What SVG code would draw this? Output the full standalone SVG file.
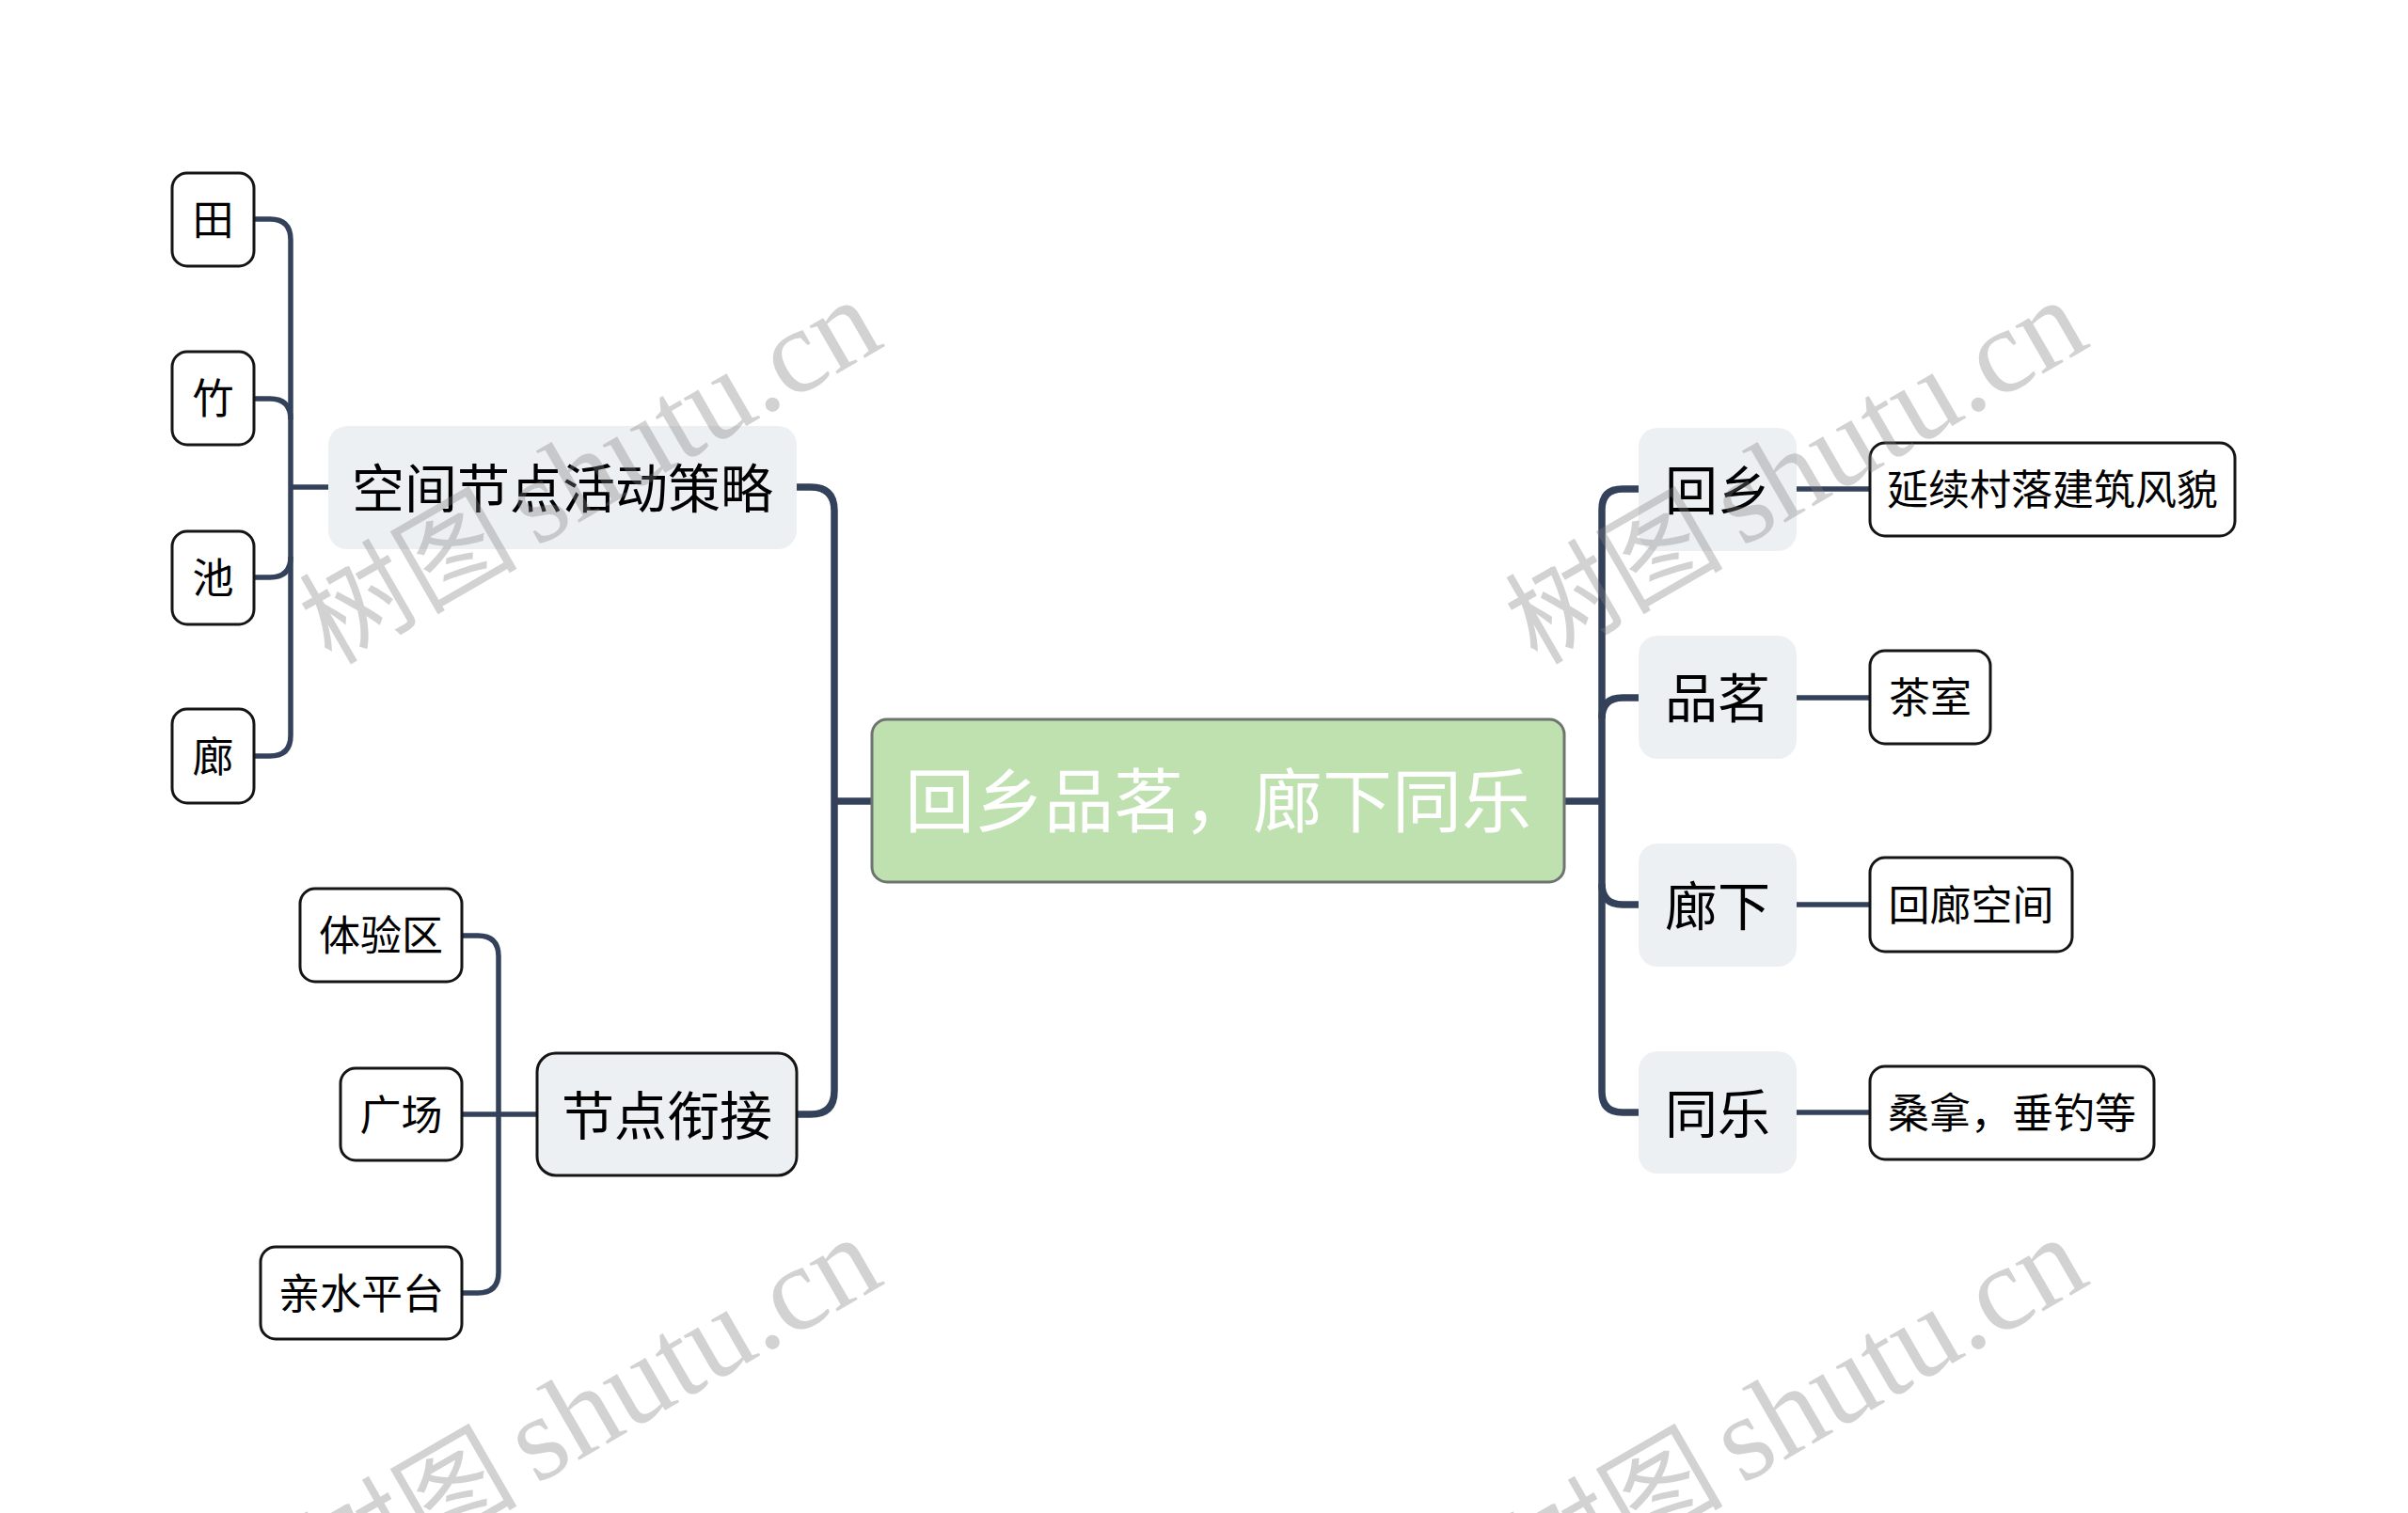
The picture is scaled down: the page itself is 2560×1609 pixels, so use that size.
<svg xmlns="http://www.w3.org/2000/svg" width="2560" height="1609" viewBox="0 0 2560 1609">
<style>
.bg{fill:#ffffff}
.t{font-family:"Noto Sans CJK SC","Noto Sans",sans-serif;text-anchor:middle;dominant-baseline:central;fill:#000000}
.leaf rect{fill:#ffffff;stroke:#151515;stroke-width:3}
.leaf text{font-size:44px}
.l1 rect{fill:#edf0f3}
.l1 text{font-size:56px}
.l1b rect{fill:#edf0f3;stroke:#151515;stroke-width:3}
.root rect{fill:#bfe1b0;stroke:#6e746f;stroke-width:3}
.root text{font-size:74px;fill:#ffffff}
.c{fill:none;stroke:#33425a;stroke-linecap:butt}
.c1{stroke-width:7.5}
.c2{stroke-width:5.5}
.wm{font-family:"Liberation Serif","Noto Sans CJK SC",serif;font-size:128px;fill:#808080;opacity:0.35}
.wmc{font-family:"Noto Sans CJK SC",serif;font-size:116px;fill:#808080;opacity:0.35;text-anchor:end}
</style>
<rect class="bg" x="0" y="0" width="2560" height="1609"/>
<g id="connectors">
<path class="c c1" d="M847 518 H862 Q887 518 887 543 V1160 Q887 1185 862 1185 H847"/>
<path class="c c1" d="M927 852 H887"/>
<path class="c c1" d="M1742 520 H1725 Q1703 520 1703 542 V1161 Q1703 1183 1725 1183 H1742"/>
<path class="c c1" d="M1742 742 H1725 Q1703 742 1703 764"/>
<path class="c c1" d="M1742 962 H1725 Q1703 962 1703 940"/>
<path class="c c1" d="M1663 852 H1703"/>
<path class="c c2" d="M270 233 H287 Q309 233 309 255 V782 Q309 804 287 804 H270"/>
<path class="c c2" d="M270 424 H287 Q309 424 309 446"/>
<path class="c c2" d="M270 614 H287 Q309 614 309 592"/>
<path class="c c2" d="M309 518 H349"/>
<path class="c c2" d="M491 995 H508 Q530 995 530 1017 V1353 Q530 1375 508 1375 H491"/>
<path class="c c2" d="M491 1185 H571"/>
<path class="c c2" d="M1910 520 H1988"/>
<path class="c c2" d="M1910 742 H1988"/>
<path class="c c2" d="M1910 962 H1988"/>
<path class="c c2" d="M1910 1183 H1988"/>
</g>
<g id="root" class="root"><rect x="927" y="765" width="736" height="173" rx="16"/><text class="t" x="1295" y="846">回乡品茗，廊下同乐</text></g>
<g id="n-kongjian" class="l1"><rect x="349" y="453" width="498" height="131" rx="20"/><text class="t" x="598" y="515">空间节点活动策略</text></g>
<g id="n-jiedian" class="l1b"><rect x="571" y="1120" width="276" height="130" rx="20"/><text class="t" x="709" y="1182" style="font-size:56px">节点衔接</text></g>
<g id="n-huixiang" class="l1"><rect x="1742" y="455" width="168" height="131" rx="20"/><text class="t" x="1826" y="517">回乡</text></g>
<g id="n-pinming" class="l1"><rect x="1742" y="676" width="168" height="131" rx="20"/><text class="t" x="1826" y="738">品茗</text></g>
<g id="n-langxia" class="l1"><rect x="1742" y="897" width="168" height="131" rx="20"/><text class="t" x="1826" y="959">廊下</text></g>
<g id="n-tongle" class="l1"><rect x="1742" y="1118" width="168" height="130" rx="20"/><text class="t" x="1826" y="1180">同乐</text></g>
<g id="n-tian" class="leaf"><rect x="183" y="184" width="87" height="99" rx="16"/><text class="t" x="226.5" y="231">田</text></g>
<g id="n-zhu" class="leaf"><rect x="183" y="374" width="87" height="99" rx="16"/><text class="t" x="226.5" y="421">竹</text></g>
<g id="n-chi" class="leaf"><rect x="183" y="565" width="87" height="99" rx="16"/><text class="t" x="226.5" y="612">池</text></g>
<g id="n-lang" class="leaf"><rect x="183" y="754" width="87" height="100" rx="16"/><text class="t" x="226.5" y="802">廊</text></g>
<g id="n-tiyan" class="leaf"><rect x="319" y="945" width="172" height="99" rx="16"/><text class="t" x="405" y="992">体验区</text></g>
<g id="n-guangchang" class="leaf"><rect x="362" y="1136" width="129" height="98" rx="16"/><text class="t" x="426.5" y="1183">广场</text></g>
<g id="n-qinshui" class="leaf"><rect x="277" y="1326" width="214" height="98" rx="16"/><text class="t" x="384" y="1373">亲水平台</text></g>
<g id="n-yanxu" class="leaf"><rect x="1988" y="471" width="388" height="99" rx="16"/><text class="t" x="2182" y="518">延续村落建筑风貌</text></g>
<g id="n-chashi" class="leaf"><rect x="1988" y="692" width="128" height="99" rx="16"/><text class="t" x="2052" y="739">茶室</text></g>
<g id="n-huilang" class="leaf"><rect x="1988" y="912" width="215" height="100" rx="16"/><text class="t" x="2095.5" y="960">回廊空间</text></g>
<g id="n-sangna" class="leaf"><rect x="1988" y="1134" width="302" height="99" rx="16"/><text class="t" x="2139" y="1181">桑拿，垂钓等</text></g>
<g id="watermarks">
<text class="wmc" transform="translate(553,592) rotate(-30)">树图</text>
<text class="wm" transform="translate(570,582) rotate(-30)">shutu.cn</text>
<text class="wmc" transform="translate(1835,592) rotate(-30)">树图</text>
<text class="wm" transform="translate(1852,582) rotate(-30)">shutu.cn</text>
<text class="wmc" transform="translate(553,1589) rotate(-30)">树图</text>
<text class="wm" transform="translate(570,1579) rotate(-30)">shutu.cn</text>
<text class="wmc" transform="translate(1835,1589) rotate(-30)">树图</text>
<text class="wm" transform="translate(1852,1579) rotate(-30)">shutu.cn</text>
</g>
</svg>
